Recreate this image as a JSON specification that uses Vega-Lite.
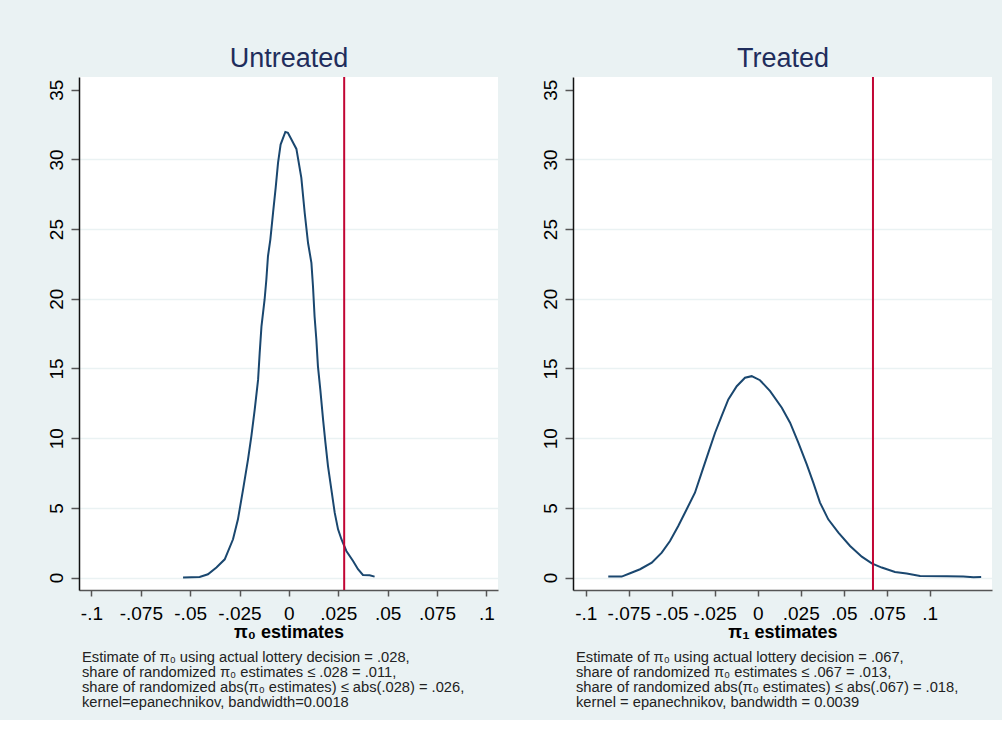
{
  "$schema": "https://vega.github.io/schema/vega-lite/v6.json",
  "background": "#eaf2f3",
  "padding": {"left": 47, "top": 44, "right": 10, "bottom": 10},
  "spacing": 43,
  "config": {
    "font": "Liberation Sans",
    "view": {"stroke": null, "fill": "white"},
    "axisX": {
      "domainColor": "#555", "domainWidth": 1.5,
      "tickColor": "#555", "tickWidth": 1.5, "tickSize": 6,
      "labelFontSize": 19, "labelColor": "#000", "labelPadding": 8,
      "labelExpr": "(datum.value < 0 ? '-' : '') + replace(format(abs(datum.value), '~g'), '0.', '.')",
      "titleFontSize": 18, "titleFontWeight": "bold", "titleColor": "#000", "titlePadding": 0,
      "grid": false
    },
    "axisY": {
      "domainColor": "#111", "domainWidth": 1.5,
      "tickColor": "#555", "tickWidth": 1.5, "tickSize": 8,
      "labelFontSize": 19, "labelColor": "#000", "labelPadding": 5,
      "labelAngle": 270, "labelAlign": "center", "labelBaseline": "bottom",
      "gridColor": "#eaf2f3", "gridWidth": 1.5
    }
  },
  "datasets": {
    "untreated": [
      {"x": -0.0536, "y": 0}, {"x": -0.0452, "y": 0.04}, {"x": -0.041, "y": 0.24}, {"x": -0.0367, "y": 0.72},
      {"x": -0.0325, "y": 1.31}, {"x": -0.0283, "y": 2.75}, {"x": -0.0258, "y": 4.18}, {"x": -0.0232, "y": 6.33},
      {"x": -0.0207, "y": 8.48}, {"x": -0.019, "y": 10.15}, {"x": -0.0173, "y": 12.06}, {"x": -0.0156, "y": 14.2},
      {"x": -0.0148, "y": 16.1}, {"x": -0.0139, "y": 18.0}, {"x": -0.0123, "y": 19.95}, {"x": -0.0114, "y": 21.4},
      {"x": -0.0106, "y": 23.05}, {"x": -0.0094, "y": 24.25}, {"x": -0.008, "y": 26.2}, {"x": -0.0067, "y": 27.96},
      {"x": -0.0055, "y": 29.75}, {"x": -0.0042, "y": 31.06}, {"x": -0.0018, "y": 31.97}, {"x": -0.0005, "y": 31.9},
      {"x": 0.0038, "y": 30.75}, {"x": 0.0063, "y": 28.67}, {"x": 0.008, "y": 26.17}, {"x": 0.0097, "y": 24.0},
      {"x": 0.0114, "y": 22.58}, {"x": 0.0122, "y": 20.9}, {"x": 0.013, "y": 18.75}, {"x": 0.0139, "y": 17.08},
      {"x": 0.0147, "y": 15.17}, {"x": 0.0159, "y": 13.5}, {"x": 0.0173, "y": 11.35}, {"x": 0.0185, "y": 9.68},
      {"x": 0.0198, "y": 8.0}, {"x": 0.0215, "y": 6.33}, {"x": 0.0232, "y": 4.66}, {"x": 0.0249, "y": 3.46},
      {"x": 0.0266, "y": 2.75}, {"x": 0.0291, "y": 1.91}, {"x": 0.0325, "y": 1.19}, {"x": 0.035, "y": 0.6},
      {"x": 0.0375, "y": 0.19}, {"x": 0.0409, "y": 0.16}, {"x": 0.0434, "y": 0.07}
    ],
    "treated": [
      {"x": -0.0869, "y": 0.07}, {"x": -0.0791, "y": 0.07}, {"x": -0.0742, "y": 0.31}, {"x": -0.0684, "y": 0.6},
      {"x": -0.0616, "y": 1.07}, {"x": -0.0558, "y": 1.79}, {"x": -0.051, "y": 2.62}, {"x": -0.0462, "y": 3.7},
      {"x": -0.0413, "y": 4.9}, {"x": -0.0365, "y": 6.09}, {"x": -0.0326, "y": 7.53}, {"x": -0.0287, "y": 8.96},
      {"x": -0.0248, "y": 10.39}, {"x": -0.021, "y": 11.58}, {"x": -0.0171, "y": 12.78}, {"x": -0.0122, "y": 13.73},
      {"x": -0.0074, "y": 14.34}, {"x": -0.0035, "y": 14.45}, {"x": 0.0013, "y": 14.16}, {"x": 0.0072, "y": 13.38},
      {"x": 0.014, "y": 12.19}, {"x": 0.0188, "y": 11.11}, {"x": 0.0236, "y": 9.68}, {"x": 0.0285, "y": 8.12},
      {"x": 0.0323, "y": 6.81}, {"x": 0.0362, "y": 5.38}, {"x": 0.041, "y": 4.18}, {"x": 0.0469, "y": 3.23},
      {"x": 0.0537, "y": 2.27}, {"x": 0.0605, "y": 1.5}, {"x": 0.0663, "y": 1.02}, {"x": 0.0721, "y": 0.72},
      {"x": 0.0798, "y": 0.4}, {"x": 0.0866, "y": 0.29}, {"x": 0.0944, "y": 0.12}, {"x": 0.1099, "y": 0.09},
      {"x": 0.1195, "y": 0.07}, {"x": 0.1254, "y": 0.02}, {"x": 0.1299, "y": 0.04}
    ]
  },
  "hconcat": [
    {
      "width": 419,
      "height": 513,
      "title": {
        "text": [
          "Estimate of π₀ using actual lottery decision = .028,",
          "share of randomized π₀ estimates ≤ .028 = .011,",
          "share of randomized abs(π₀ estimates) ≤ abs(.028) = .026,",
          "kernel=epanechnikov, bandwidth=0.0018"
        ],
        "orient": "bottom", "anchor": "start", "frame": "group", "align": "left",
        "dx": 3, "offset": 9, "fontSize": 14.7, "fontWeight": "normal", "lineHeight": 15, "color": "#222"
      },
      "layer": [
        {
          "data": {"name": "untreated"},
          "mark": {"type": "line", "color": "#1a476f", "strokeWidth": 2},
          "encoding": {
            "x": {
              "field": "x", "type": "quantitative",
              "scale": {"domain": [-0.1063, 0.1059], "nice": false, "zero": false},
              "axis": {"values": [-0.1, -0.075, -0.05, -0.025, 0, 0.025, 0.05, 0.075, 0.1], "title": "π₀ estimates"}
            },
            "y": {
              "field": "y", "type": "quantitative",
              "scale": {"domain": [-0.89, 35.91], "nice": false, "zero": false},
              "axis": {"values": [0, 5, 10, 15, 20, 25, 30, 35], "title": null,
                "gridOpacity": {"condition": {"test": "datum.value >= 35", "value": 0}, "value": 1}}
            }
          }
        },
        {
          "data": {"values": [{"estimate": 0.028}]},
          "mark": {"type": "rule", "color": "#c10534", "strokeWidth": 2},
          "encoding": {
            "x": {
              "field": "estimate", "type": "quantitative",
              "scale": {"domain": [-0.1063, 0.1059], "nice": false, "zero": false},
              "axis": {"orient": "top", "title": "Untreated", "labels": false, "ticks": false, "domain": false,
                "titleFontSize": 27, "titleColor": "#1f2d5c", "titleFontWeight": "normal", "titleBaseline": "alphabetic", "titlePadding": 11}
            }
          }
        }
      ],
      "resolve": {"axis": {"x": "independent"}}
    },
    {
      "width": 419,
      "height": 513,
      "title": {
        "text": [
          "Estimate of π₀ using actual lottery decision = .067,",
          "share of randomized π₀ estimates ≤ .067 = .013,",
          "share of randomized abs(π₀ estimates) ≤ abs(.067) = .018,",
          "kernel = epanechnikov, bandwidth = 0.0039"
        ],
        "orient": "bottom", "anchor": "start", "frame": "group", "align": "left",
        "dx": 3, "offset": 9, "fontSize": 14.7, "fontWeight": "normal", "lineHeight": 15, "color": "#222"
      },
      "layer": [
        {
          "data": {"name": "treated"},
          "mark": {"type": "line", "color": "#1a476f", "strokeWidth": 2},
          "encoding": {
            "x": {
              "field": "x", "type": "quantitative",
              "scale": {"domain": [-0.1074, 0.1362], "nice": false, "zero": false},
              "axis": {"values": [-0.1, -0.075, -0.05, -0.025, 0, 0.025, 0.05, 0.075, 0.1], "title": "π₁ estimates"}
            },
            "y": {
              "field": "y", "type": "quantitative",
              "scale": {"domain": [-0.89, 35.91], "nice": false, "zero": false},
              "axis": {"values": [0, 5, 10, 15, 20, 25, 30, 35], "title": null,
                "gridOpacity": {"condition": {"test": "datum.value >= 35", "value": 0}, "value": 1}}
            }
          }
        },
        {
          "data": {"values": [{"estimate": 0.067}]},
          "mark": {"type": "rule", "color": "#c10534", "strokeWidth": 2},
          "encoding": {
            "x": {
              "field": "estimate", "type": "quantitative",
              "scale": {"domain": [-0.1074, 0.1362], "nice": false, "zero": false},
              "axis": {"orient": "top", "title": "Treated", "labels": false, "ticks": false, "domain": false,
                "titleFontSize": 27, "titleColor": "#1f2d5c", "titleFontWeight": "normal", "titleBaseline": "alphabetic", "titlePadding": 11}
            }
          }
        }
      ],
      "resolve": {"axis": {"x": "independent"}}
    }
  ]
}
